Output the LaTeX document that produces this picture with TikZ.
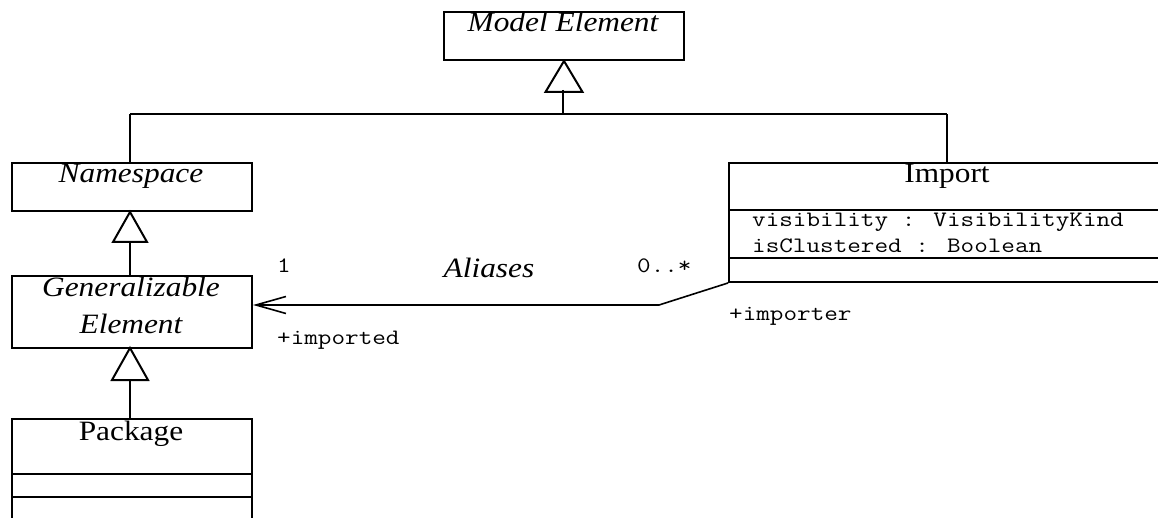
\documentclass[tikz,border=0pt]{standalone}
\usepackage{fontspec}
\setmainfont{Liberation Serif}
\newfontfamily\serifs[FakeStretch=1.12]{Liberation Serif}
\newfontfamily\monos[FakeStretch=1.2]{Latin Modern Mono}
\usetikzlibrary{arrows.meta}
\tikzset{
  box/.style={draw, line width=2pt, minimum width=240pt, anchor=north west, inner sep=0pt},
  lbl/.style={anchor=base, inner sep=0pt, font=\serifs\fontsize{28}{30}\selectfont},
  ilbl/.style={lbl, font=\serifs\itshape\fontsize{28}{30}\selectfont},
  mono/.style={anchor=base west, inner sep=0pt, font=\monos\fontsize{22}{24}\selectfont},
  gen/.style={draw, line width=2pt, line join=miter},
  stem/.style={line width=2.5pt},
  assoc/.style={line width=1.6pt},
}
\begin{document}
\begin{tikzpicture}[x=1pt, y=-1pt]
\useasboundingbox (0,0) rectangle (1158,518);
\clip (0,0) rectangle (1158,518);
% boxes
\node[box, minimum height=48pt] (me) at (443,11) {};
\node[ilbl] (metxt) at (563,32) {Model Element};
\node[box, minimum height=48pt] (ns) at (11,162) {};
\node[ilbl] (nstxt) at (131,183) {Namespace};
\node[box, minimum height=72pt] (ge) at (11,275) {};
\node[ilbl] (getxt1) at (131,297) {Generalizable};
\node[ilbl] (getxt2) at (131,333) {Element};
\node[box, minimum height=130pt] (pk) at (11,418) {};
\node[lbl] (pktxt) at (131,440) {Package};
\draw[line width=2pt] (11,474) -- (251,474) (11,497) -- (251,497);
\node[box, minimum height=119pt, minimum width=440pt] (im) at (728,162) {};
\node[lbl] (imtxt) at (947,183) {Import};
\draw[line width=2pt] (728,210) -- (1170,210) (728,258) -- (1170,258);
\node[mono] (a1) at (752,227) {visibility : VisibilityKind};
\node[mono] (a2) at (752,253) {isClustered : Boolean};
% generalization Model Element
\draw[gen] (me.south) -- ++(-18.5,31) -- ++(37,0) -- cycle;
\coordinate (mej) at (563,114);
\draw[stem] (563,90) -- (mej);
\draw[line width=2pt] (130,114) -- (947,114);
\draw[line width=2pt] (ns.north -| 130,114) -- (130,114);
\draw[line width=2pt] (im.north -| 947,114) -- (947,114);
% Namespace <- Generalizable
\draw[gen] (130,212) -- ++(-17,30) -- ++(34,0) -- cycle;
\draw[stem] (130,242) -- (ge.north -| 130,0);
% Generalizable <- Package
\draw[gen] (130,348) -- ++(-18,32) -- ++(36,0) -- cycle;
\draw[stem] (130,380) -- (pk.north -| 130,0);
% association
\coordinate (bend) at (659,305);
\draw[assoc, -{Straight Barb[length=30pt, width=17pt, line width=1.6pt]}] (im.south west) -- (bend) -- (ge.east |- bend);
\node[mono] (m1) at (277,273) {1};
\node[ilbl] (al) at (489,278) {Aliases};
\node[mono] (m2) at (637,273) {0..*};
\node[mono] (r1) at (277,344) {+imported};
\node[mono] (r2) at (729,320) {+importer};
\end{tikzpicture}
\end{document}
